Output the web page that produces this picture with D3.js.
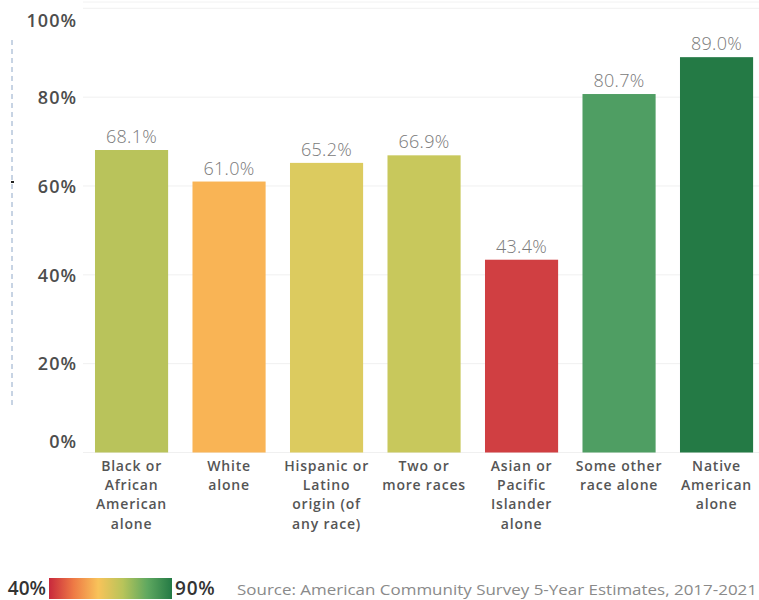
<!DOCTYPE html>
<html>
<head>
<meta charset="utf-8">
<script src="https://cdn.jsdelivr.net/npm/d3@7"></script>
<style>
  html, body { margin: 0; padding: 0; background: #fff; }
  svg { display: block; }
  svg text { font-family: "Open Sans", "DejaVu Sans", sans-serif; }
</style>
</head>
<body>
<svg id="chart" width="759" height="600"></svg>
<script>
// ---- data ----
const categories = [
  "Black or|African|American|alone",
  "White|alone",
  "Hispanic or|Latino|origin (of|any race)",
  "Two or|more races",
  "Asian or|Pacific|Islander|alone",
  "Some other|race alone",
  "Native|American|alone"
];
const values = [68.1, 61.0, 65.2, 66.9, 43.4, 80.7, 89.0];
const yTicks = [0, 20, 40, 60, 80, 100];
const legendLabels = ["40%", "90%"];
const sourceText = "Source: American Community Survey 5-Year Estimates, 2017-2021";

// ---- styles ----
const barColors = ["#b9c35b", "#f9b455", "#dccb5f", "#c8c85c", "#d03f42", "#4f9e63", "#247a45"];
const gradientStops = ["#c8283c", "#ee7a45", "#f8c35a", "#b8c45a", "#5fa860", "#247a45"];

const svg = d3.select("#chart");

const x = d3.scaleBand()
  .domain(categories)
  .range([82.8, 765.3])
  .paddingInner(0.25)
  .paddingOuter(0.125);

const y = d3.scaleLinear()
  .domain([0, 100])
  .range([452.5, 8.3]);

// faint top frame line
svg.append("line")
  .attr("x1", 83).attr("x2", 759)
  .attr("y1", 2).attr("y2", 2)
  .attr("stroke", "#f2f2f2").attr("stroke-width", 1);

// left dashed line + small mark
svg.append("line")
  .attr("x1", 12).attr("x2", 12)
  .attr("y1", 40).attr("y2", 408)
  .attr("stroke", "#8fa8c8").attr("stroke-width", 1)
  .attr("stroke-dasharray", "5,4");
svg.append("rect")
  .attr("x", 11).attr("y", 181).attr("width", 3).attr("height", 2)
  .attr("fill", "#222");

// gridlines
svg.append("g")
  .selectAll("line")
  .data(yTicks)
  .join("line")
  .attr("x1", 83).attr("x2", 759)
  .attr("y1", d => y(d)).attr("y2", d => y(d))
  .attr("stroke", "#f0f0f0").attr("stroke-width", 1);

// y axis
const yAxis = svg.append("g")
  .attr("transform", "translate(77,0)")
  .call(d3.axisLeft(y).tickValues(yTicks).tickFormat(d => d + "%").tickSize(0).tickPadding(0));
yAxis.select(".domain").remove();
yAxis.selectAll("text")
  .attr("fill", "#4d4d4d")
  .attr("font-size", 18)
  .attr("font-weight", 600)
  .attr("letter-spacing", 1)
  .attr("dy", d => d === 100 ? "1.0em" : d === 0 ? "-0.3em" : "0.35em");

// bars
svg.append("g")
  .selectAll("rect")
  .data(values)
  .join("rect")
  .attr("x", (d, i) => x(categories[i]))
  .attr("width", x.bandwidth())
  .attr("y", d => y(d))
  .attr("height", d => y(0) - y(d))
  .attr("fill", (d, i) => barColors[i]);

// value labels
svg.append("g")
  .selectAll("text")
  .data(values)
  .join("text")
  .attr("x", (d, i) => x(categories[i]) + x.bandwidth() / 2)
  .attr("y", d => y(d) - 7)
  .attr("text-anchor", "middle")
  .attr("fill", "#7a7a7a")
  .attr("font-size", 18)
  .attr("font-weight", 300)
  .attr("letter-spacing", 0.3)
  .text(d => d.toFixed(1) + "%");

// category labels
const xAxis = svg.append("g")
  .attr("transform", `translate(0,${y(0)})`)
  .call(d3.axisBottom(x).tickSize(0).tickFormat(""));
xAxis.select(".domain").remove();
xAxis.selectAll(".tick").each(function(d) {
  const t = d3.select(this).append("text")
    .attr("text-anchor", "middle")
    .attr("fill", "#555")
    .attr("font-size", 14)
    .attr("font-weight", 600)
    .attr("letter-spacing", 0.8);
  d.split("|").forEach((line, i) => {
    t.append("tspan").attr("x", 0).attr("y", 18 + i * 19.4).text(line);
  });
});

// legend gradient
const defs = svg.append("defs");
const grad = defs.append("linearGradient").attr("id", "lg").attr("x1", "0%").attr("x2", "100%");
gradientStops.forEach((c, i) => {
  grad.append("stop").attr("offset", (i / (gradientStops.length - 1) * 100) + "%").attr("stop-color", c);
});
svg.append("rect")
  .attr("x", 49).attr("y", 578).attr("width", 123).attr("height", 21)
  .attr("fill", "url(#lg)");

svg.append("text")
  .attr("x", 46).attr("y", 595)
  .attr("text-anchor", "end")
  .attr("fill", "#333").attr("font-size", 19).attr("font-weight", 600)
  .text(legendLabels[0]);
svg.append("text")
  .attr("x", 175).attr("y", 595)
  .attr("fill", "#333").attr("font-size", 19).attr("font-weight", 600)
  .attr("letter-spacing", 0.8)
  .text(legendLabels[1]);

svg.append("text")
  .attr("x", 237).attr("y", 595)
  .attr("fill", "#8a8a8a").attr("font-size", 15)
  .attr("textLength", 520)
  .attr("lengthAdjust", "spacingAndGlyphs")
  .text(sourceText);
</script>
</body>
</html>
